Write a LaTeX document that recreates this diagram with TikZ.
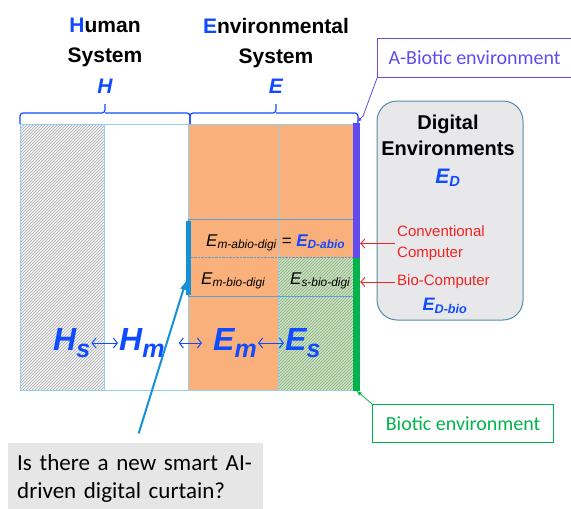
\documentclass[tikz,border=0pt]{standalone}
\usepackage{fontspec}
\setmainfont{Liberation Sans}
\newfontfamily\calibri{Carlito}
\usetikzlibrary{patterns,arrows.meta}
\definecolor{sysblue}{RGB}{15,75,255}
\definecolor{envorange}{RGB}{250,176,122}
\definecolor{panelblue}{RGB}{150,205,235}
\definecolor{rowblue}{RGB}{90,160,210}
\definecolor{curtainblue}{RGB}{20,145,215}
\definecolor{abioviolet}{RGB}{95,75,240}
\definecolor{biogreen}{RGB}{0,180,75}
\definecolor{compred}{RGB}{240,35,35}
\definecolor{digigray}{RGB}{232,232,235}
\definecolor{digiedge}{RGB}{80,140,170}
\definecolor{askgray}{RGB}{230,230,230}
\definecolor{hatchbg}{RGB}{205,225,195}
\definecolor{hatchfg}{RGB}{135,175,125}
\newcommand{\bigsub}[1]{\raisebox{-7pt}{\fontsize{25}{25}\selectfont #1}}
\tikzstyle{title}=[font=\fontsize{21}{30}\selectfont\bfseries,align=center,anchor=north,inner sep=0pt]
\tikzstyle{symbol}=[text=sysblue,font=\fontsize{21}{25}\selectfont\bfseries\itshape,anchor=base,inner sep=0pt]
\tikzstyle{bigsym}=[text=sysblue,font=\fontsize{32}{36}\selectfont\bfseries\itshape,anchor=base west,inner sep=0pt]
\tikzstyle{rowlabel}=[font=\fontsize{17}{20}\selectfont\itshape,anchor=base west,inner sep=0pt]
\tikzstyle{redlabel}=[text=compred,font=\fontsize{15}{21}\selectfont,align=left,anchor=west,inner sep=0pt]
\tikzstyle{envbox}=[draw,line width=1.2pt,font={\calibri\fontsize{20}{24}\selectfont},inner xsep=11pt,anchor=north west]
\tikzstyle{question}=[fill=askgray,font={\calibri\fontsize{23}{28}\selectfont},align=left,text width=237pt,inner xsep=9pt,anchor=north west]
\tikzstyle{digibox}=[draw=digiedge,fill=digigray,line width=1pt,rounded corners=20pt]
\tikzstyle{bar}=[minimum width=7pt,inner sep=0pt]
\tikzstyle{bracket}=[draw=sysblue,line width=1.2pt,rounded corners=3pt]
\tikzstyle{panelline}=[draw=panelblue,line width=0.8pt]
\tikzstyle{redarrow}=[draw=compred,line width=0.9pt,-{Straight Barb[length=4pt,width=9pt]},shorten <=2pt]
\tikzstyle{linkarrow}=[draw=sysblue,line width=1pt,{Straight Barb[length=4pt,width=10pt]}-{Straight Barb[length=4pt,width=10pt]},shorten <=1pt,shorten >=1pt]

\begin{document}
\begin{tikzpicture}[x=1pt,y=-1pt]
	\useasboundingbox (0,0) rectangle (571,509);

	% panels H and E
	\fill[gray!10] (20,124) rectangle (104,390);
	\fill[pattern=north east lines,pattern color=gray!65] (20,124) rectangle (104,390);
	\fill[envorange] (188,124) rectangle (355,390);
	\fill[hatchbg] (278,258) rectangle (355,390);
	\fill[pattern=north east lines,pattern color=hatchfg] (278,258) rectangle (355,390);
	\draw[panelline] (20,124) rectangle (355,390);
	\draw[panelline] (104,124) -- (104,390) (188,124) -- (188,390) (278,124) -- (278,390);
	\draw[rowblue,thick] (188,219) rectangle (355,296);
	\draw[rowblue,densely dotted] (188,257.5) -- (355,257.5);
	\fill[curtainblue] (185.5,221) rectangle (190.5,295);
	\node[bar,fill=abioviolet,minimum height=135pt] (abiobar) at (356.5,190) {};
	\node[bar,fill=biogreen,minimum height=133pt] (biobar) at (356.5,324) {};

	\node[title] (human) at (105,18) {\textcolor{sysblue}{H}uman\\System};
	\node[title] (environ) at (276,18) {\textcolor{sysblue}{E}nvironmental\\System};
	\node[symbol] (hsym) at (105,93) {H};
	\node[symbol] (esym) at (276,93) {E};
	\draw[bracket] (20,124) |- (105,113) -- (105,104) (105,113) -| (190,124);
	\draw[bracket] (190,124) |- (276,113) -- (276,104) (276,113) -| (358,124);

	\node[rowlabel] (mabio) at (206,246) {E\textsubscript{m-abio-digi} = \textcolor{sysblue}{\bfseries E\textsubscript{D-abio}}};
	\node[rowlabel] (mbio) at (201,284) {E\textsubscript{m-bio-digi}};
	\node[rowlabel] (sbio) at (290,284) {E\textsubscript{s-bio-digi}};

	\node[bigsym] (hs) at (53,350) {H\bigsub{s}};
	\node[bigsym] (hm) at (119,350) {H\bigsub{m}};
	\node[bigsym] (em) at (213,350) {E\bigsub{m}};
	\node[bigsym] (es) at (285,350) {E\bigsub{s}};
	\coordinate (link) at (0,343);
	\draw[linkarrow] (hs.east |- link) -- (hm.west |- link);
	\draw[linkarrow] (hm.east |- link) ++(13,0) -- (203,343);
	\draw[linkarrow] (em.east |- link) -- (es.west |- link);

	% digital environments
	\node[digibox,minimum width=146pt,minimum height=219pt] (digital) at (450,210.5) {};
	\node[title,font=\fontsize{20}{26}\selectfont\bfseries] (digititle) at (448,115) {Digital\\Environments};
	\node[symbol] (edsym) at (448,183) {E\textsubscript{D}};
	\node[redlabel] (conv) at (397,243.5) {Conventional\\Computer};
	\node[redlabel] (biocomp) at (397,282) {Bio-Computer};
	\node[symbol,font=\fontsize{18}{22}\selectfont\bfseries\itshape] (edbio) at (445,310) {E\textsubscript{D-bio}};
	\draw[redarrow] (conv.west) -- (conv.west -| abiobar.east);
	\draw[redarrow] (biocomp.west) -- (biocomp.west -| biobar.east);

	\node[envbox,draw=abioviolet,text=abioviolet,minimum height=39pt] (abiotic) at (377,38) {A-Biotic environment};
	\draw[abioviolet,thick,-latex] (abiotic.south west) -- ++(-14,38) -- (abiobar.north);
	\node[envbox,draw=biogreen,text=biogreen,minimum width=181pt,minimum height=38pt] (biotic) at (372,404) {Biotic environment};
	\draw[biogreen,thick,-latex] (biotic.north west) -- (biobar.south);

	\node[question,minimum height=70pt] (curtain) at (8,443) {Is there a new smart AI-\\driven digital curtain?};
	\coordinate (curtaintip) at (186,281);
	\draw[curtainblue,line width=2pt,-latex,shorten <=10pt] (curtain.north) -- (curtaintip);
\end{tikzpicture}
\end{document}
